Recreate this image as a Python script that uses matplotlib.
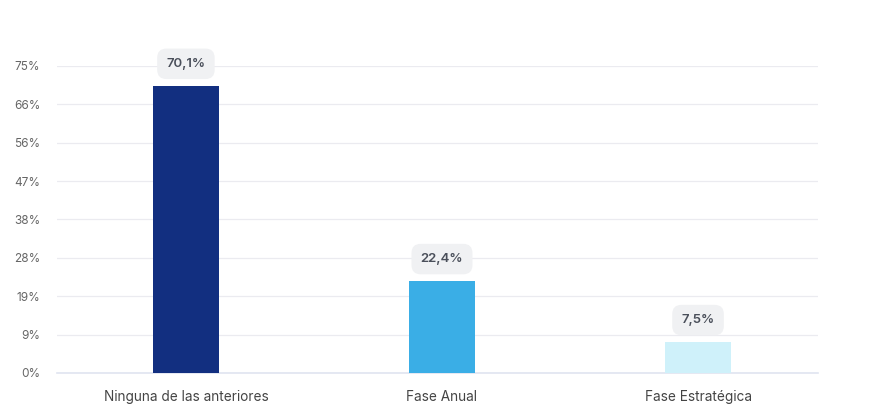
import matplotlib
matplotlib.use("Agg")
import matplotlib.pyplot as plt
import numpy as np

categories = ["Ninguna de las anteriores", "Fase Anual", "Fase Estratégica"]
values = [70.1, 22.4, 7.5]
value_labels = ["70,1%", "22,4%", "7,5%"]
colors = ["#122F80", "#3AAEE6", "#CFF1FA"]
ytick_vals = [0, 9.375, 18.75, 28.125, 37.5, 46.875, 56.25, 65.625, 75]
ytick_labels = ["0%", "9%", "19%", "28%", "38%", "47%", "56%", "66%", "75%"]

plt.rcParams['font.family'] = ['Inter', 'DejaVu Sans']

fig = plt.figure(figsize=(8.75, 4.08), dpi=100)
ax = fig.add_axes([0.065, 0.0858, 0.87, 0.7525])

x = np.arange(len(categories))
ax.bar(x, values, width=0.258, color=colors, zorder=3)

ax.set_xlim(-0.504, 2.469)
ax.set_ylim(0, 75)
ax.set_yticks(ytick_vals)
ax.set_yticklabels(ytick_labels, fontsize=8.5, color="#666666")
ax.set_xticks(x)
ax.set_xticklabels(categories, fontsize=9.8, color="#444444")
ax.tick_params(axis='both', length=0)
ax.tick_params(axis='y', pad=12)
ax.tick_params(axis='x', pad=12)
for s in ["top", "right", "left"]:
    ax.spines[s].set_visible(False)
ax.spines["bottom"].set_color("#E0E4F0")
ax.spines["bottom"].set_linewidth(1.2)
ax.yaxis.grid(True, color="#EBEBF0", linewidth=0.9, zorder=0)
ax.set_axisbelow(True)

for xi, v, lab in zip(x, values, value_labels):
    ax.annotate(lab, xy=(xi, v), xytext=(0, 16), textcoords="offset points",
                ha="center", va="center", fontsize=9.5, fontweight="semibold",
                color="#4A4F5A", zorder=5,
                bbox=dict(boxstyle="round,pad=0.7,rounding_size=0.7",
                          fc="#F0F1F3", ec="none"))

fig.savefig("out.png", dpi=100)
